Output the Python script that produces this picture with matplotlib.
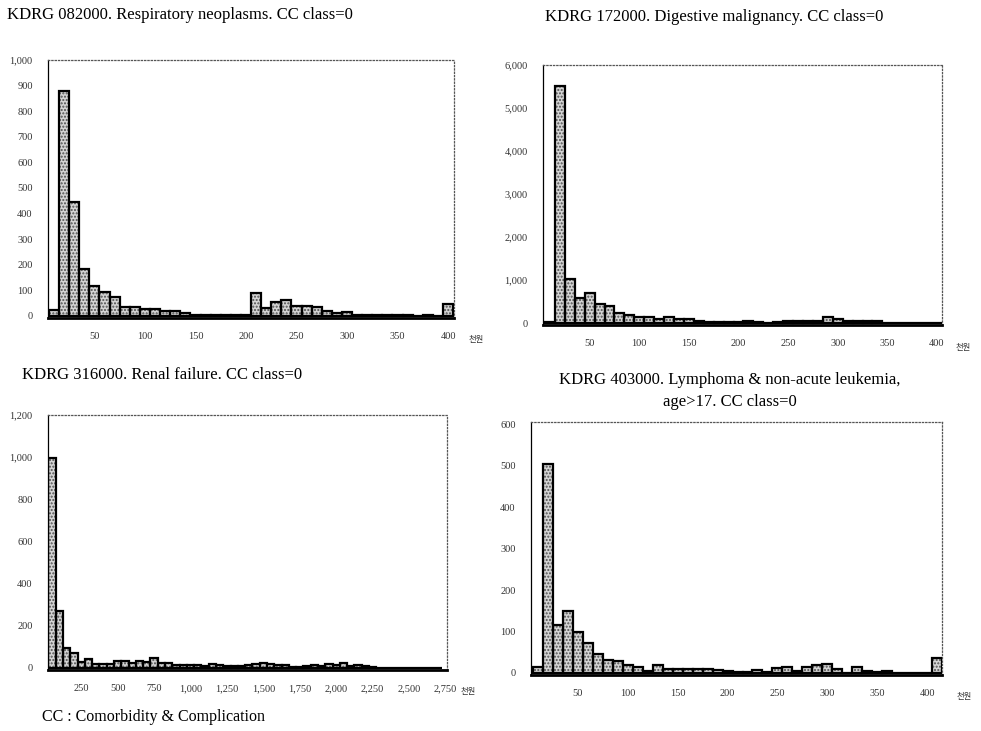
import matplotlib
matplotlib.use('Agg')
from matplotlib import pyplot as plt
from matplotlib.ticker import FuncFormatter

# KDRG 082000 - respiratory neoplasms (bins 10..400, last one open ended)
resp_x = [10 * (i + 1) for i in range(40)]
resp_n = [25, 880, 445, 185, 115, 92, 75, 35, 33, 28,
          28, 20, 20, 12, 5, 4, 4, 4, 2, 2,
          88, 30, 55, 62, 38, 38, 35, 18, 10, 15,
          5, 2, 5, 5, 3, 2, 0, 2, 0, 45]

# KDRG 172000 - digestive malignancy
dig_x = [10 * (i + 1) for i in range(40)]
dig_n = [30, 5500, 1030, 590, 690, 450, 390, 230, 180, 140,
         140, 90, 140, 100, 100, 50, 20, 15, 15, 15,
         50, 15, 10, 20, 50, 50, 50, 50, 130, 90,
         50, 50, 50, 50, 10, 5, 3, 2, 2, 2]

# KDRG 316000 - renal failure (bins of 50)
ren_x = [50 * (i + 1) for i in range(54)]
ren_n = [995, 270, 95, 72, 30, 40, 20, 20, 20, 35,
         35, 25, 35, 30, 45, 25, 25, 15, 15, 15,
         15, 10, 20, 15, 10, 10, 10, 15, 20, 25,
         20, 15, 15, 5, 5, 10, 15, 10, 20, 15,
         25, 10, 15, 10, 5, 2, 2, 0, 0, 0,
         0, 0, 0, 0]

# KDRG 403000 - lymphoma & non-acute leukemia
lym_x = [10 * (i + 1) for i in range(41)]
lym_n = [15, 505, 115, 150, 98, 72, 45, 32, 28, 18,
         15, 5, 18, 10, 10, 10, 10, 10, 8, 5,
         2, 3, 8, 3, 12, 15, 5, 15, 20, 22,
         10, 0, 15, 5, 2, 5, 0, 0, 0, 0, 35]

titles = ['KDRG 082000. Respiratory neoplasms. CC class=0',
          'KDRG 172000. Digestive malignancy. CC class=0',
          'KDRG 316000. Renal failure. CC class=0',
          'KDRG 403000. Lymphoma & non-acute leukemia,\nage>17. CC class=0']

ticks_small = [50, 100, 150, 200, 250, 300, 350, 400]
ticks_renal = [250, 500, 750, 1000, 1250, 1500, 1750, 2000, 2250, 2500, 2750]

serif = 'Liberation Serif'
kr = 'Noto Sans CJK KR'
comma = FuncFormatter(lambda v, p: '{:,.0f}'.format(v))


def draw(ax, xs, ys, width, xlim, ylim, yticks, xticks):
    # stipple fill first, then a heavy black outline on top
    ax.bar(xs, ys, width=width, color='#d4d4d4', hatch='.....',
           edgecolor='#505050', linewidth=0, zorder=2)
    ax.bar(xs, ys, width=width, fill=False, edgecolor='black',
           linewidth=1.6, zorder=3)
    ax.set_xlim(*xlim)
    ax.set_ylim(*ylim)
    ax.set_yticks(yticks)
    ax.set_xticks(xticks)
    ax.yaxis.set_major_formatter(comma)
    ax.xaxis.set_major_formatter(comma)
    for s in ['top', 'right']:
        ax.spines[s].set_linestyle(':')
        ax.spines[s].set_color('#555555')
        ax.spines[s].set_linewidth(0.9)
    ax.spines['left'].set_linewidth(0.9)
    ax.spines['bottom'].set_linewidth(2.0)
    ax.tick_params(axis='both', length=0, labelsize=7.5, colors='#333333')
    ax.tick_params(axis='x', pad=10)
    ax.tick_params(axis='y', pad=11)
    for lab in ax.get_xticklabels() + ax.get_yticklabels():
        lab.set_family(serif)
    ax.text(1.035, -0.085, '천원', transform=ax.transAxes, fontsize=6,
            family=[kr, 'DejaVu Sans'], color='#333333', va='center')


fig = plt.figure(figsize=(9.81, 7.31), dpi=100)

ax1 = fig.add_axes([0.0489, 0.565, 0.414, 0.353])
draw(ax1, resp_x, resp_n, 10, (4, 406), (-8, 1000), range(0, 1001, 100), ticks_small)

ax2 = fig.add_axes([0.5535, 0.5554, 0.4067, 0.3557])
draw(ax2, dig_x, dig_n, 10, (3, 405), (-45, 6000), range(0, 6001, 1000), ticks_small)

ax3 = fig.add_axes([0.0489, 0.0834, 0.4067, 0.3488])
draw(ax3, ren_x, ren_n, 50, (22, 2760), (-10, 1200), range(0, 1201, 200), ticks_renal)

ax4 = fig.add_axes([0.5413, 0.0766, 0.419, 0.346])
draw(ax4, lym_x, lym_n, 10, (3, 415), (-5, 605), range(0, 601, 100), ticks_small)

fig.text(7 / 981, 1 - 15 / 731, titles[0], fontsize=12, family=serif, va='center')
fig.text(545 / 981, 1 - 17 / 731, titles[1], fontsize=12, family=serif, va='center')
fig.text(22 / 981, 1 - 375 / 731, titles[2], fontsize=12, family=serif, va='center')
fig.text(730 / 981, 1 - 391 / 731, titles[3], fontsize=12, family=serif,
         va='center', ha='center', linespacing=1.5)

fig.text(42 / 981, 1 - 717 / 731, 'CC : Comorbidity & Complication', fontsize=11.5,
         family=serif, va='center')

fig.savefig('out.png', dpi=100)
